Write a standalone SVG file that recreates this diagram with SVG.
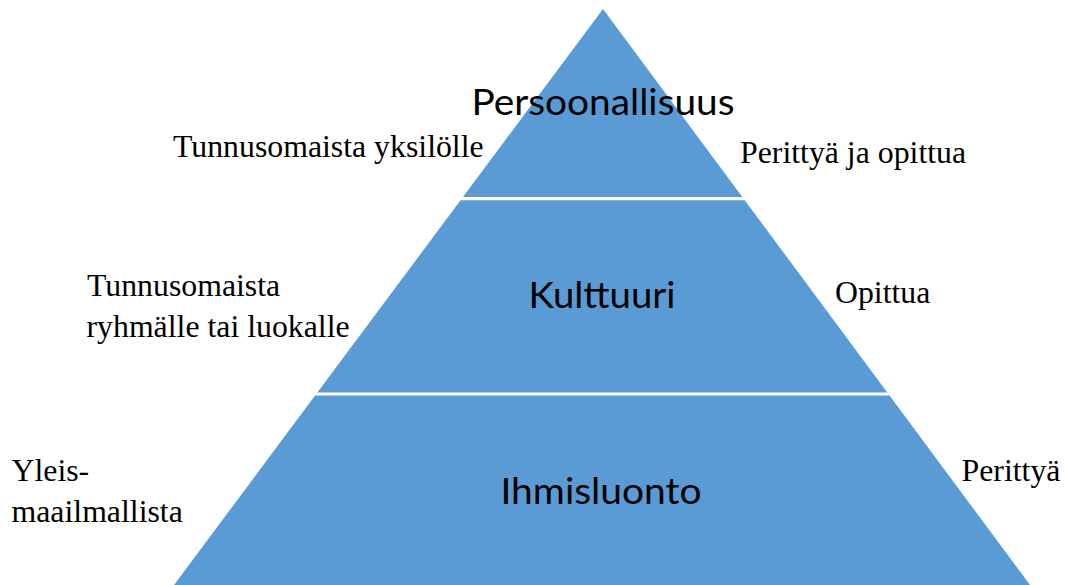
<svg xmlns="http://www.w3.org/2000/svg" width="1065" height="585" viewBox="0 0 1065 585">
<style>
.tier{fill:#5B9BD5;}
.sep{stroke:#FFFFFF;stroke-width:3.2;}
.title{font-family:Lato,"Open Sans","Liberation Sans",sans-serif;font-size:37px;fill:#000000;text-anchor:middle;}
.lbl{font-family:"Liberation Serif","Times New Roman",serif;font-size:31.8px;fill:#000000;}
</style>
<rect x="0" y="0" width="1065" height="585" fill="#FFFFFF"/>
<g id="pyramid">
<polygon class="tier" points="603,9 174,585 1030,585"/>
</g>
<g id="separators">
<line class="sep" x1="150" y1="198.7" x2="1060" y2="198.7"/>
<line class="sep" x1="150" y1="394" x2="1060" y2="394"/>
</g>
<g id="connectors"></g>
<g id="node-persoonallisuus">
<text class="title" x="603" y="115" textLength="263" lengthAdjust="spacingAndGlyphs">Persoonallisuus</text>
</g>
<g id="node-kulttuuri">
<text class="title" x="602" y="308" textLength="147" lengthAdjust="spacingAndGlyphs">Kulttuuri</text>
</g>
<g id="node-ihmisluonto">
<text class="title" x="601" y="504" textLength="201" lengthAdjust="spacingAndGlyphs">Ihmisluonto</text>
</g>
<g id="label-tunnusomaista-yksilolle">
<text class="lbl" x="173" y="156.5">Tunnusomaista yksilölle</text>
</g>
<g id="label-perittya-ja-opittua">
<text class="lbl" x="740" y="162.5">Perittyä ja opittua</text>
</g>
<g id="label-tunnusomaista-ryhmalle">
<text class="lbl" x="87" y="296">Tunnusomaista</text>
<text class="lbl" x="86.5" y="336.7">ryhmälle tai luokalle</text>
</g>
<g id="label-opittua">
<text class="lbl" x="835" y="303.3">Opittua</text>
</g>
<g id="label-yleismaailmallista">
<text class="lbl" x="11.5" y="480.7">Yleis-</text>
<text class="lbl" x="11.5" y="521.7">maailmallista</text>
</g>
<g id="label-perittya">
<text class="lbl" x="961.5" y="481">Perittyä</text>
</g>
</svg>
